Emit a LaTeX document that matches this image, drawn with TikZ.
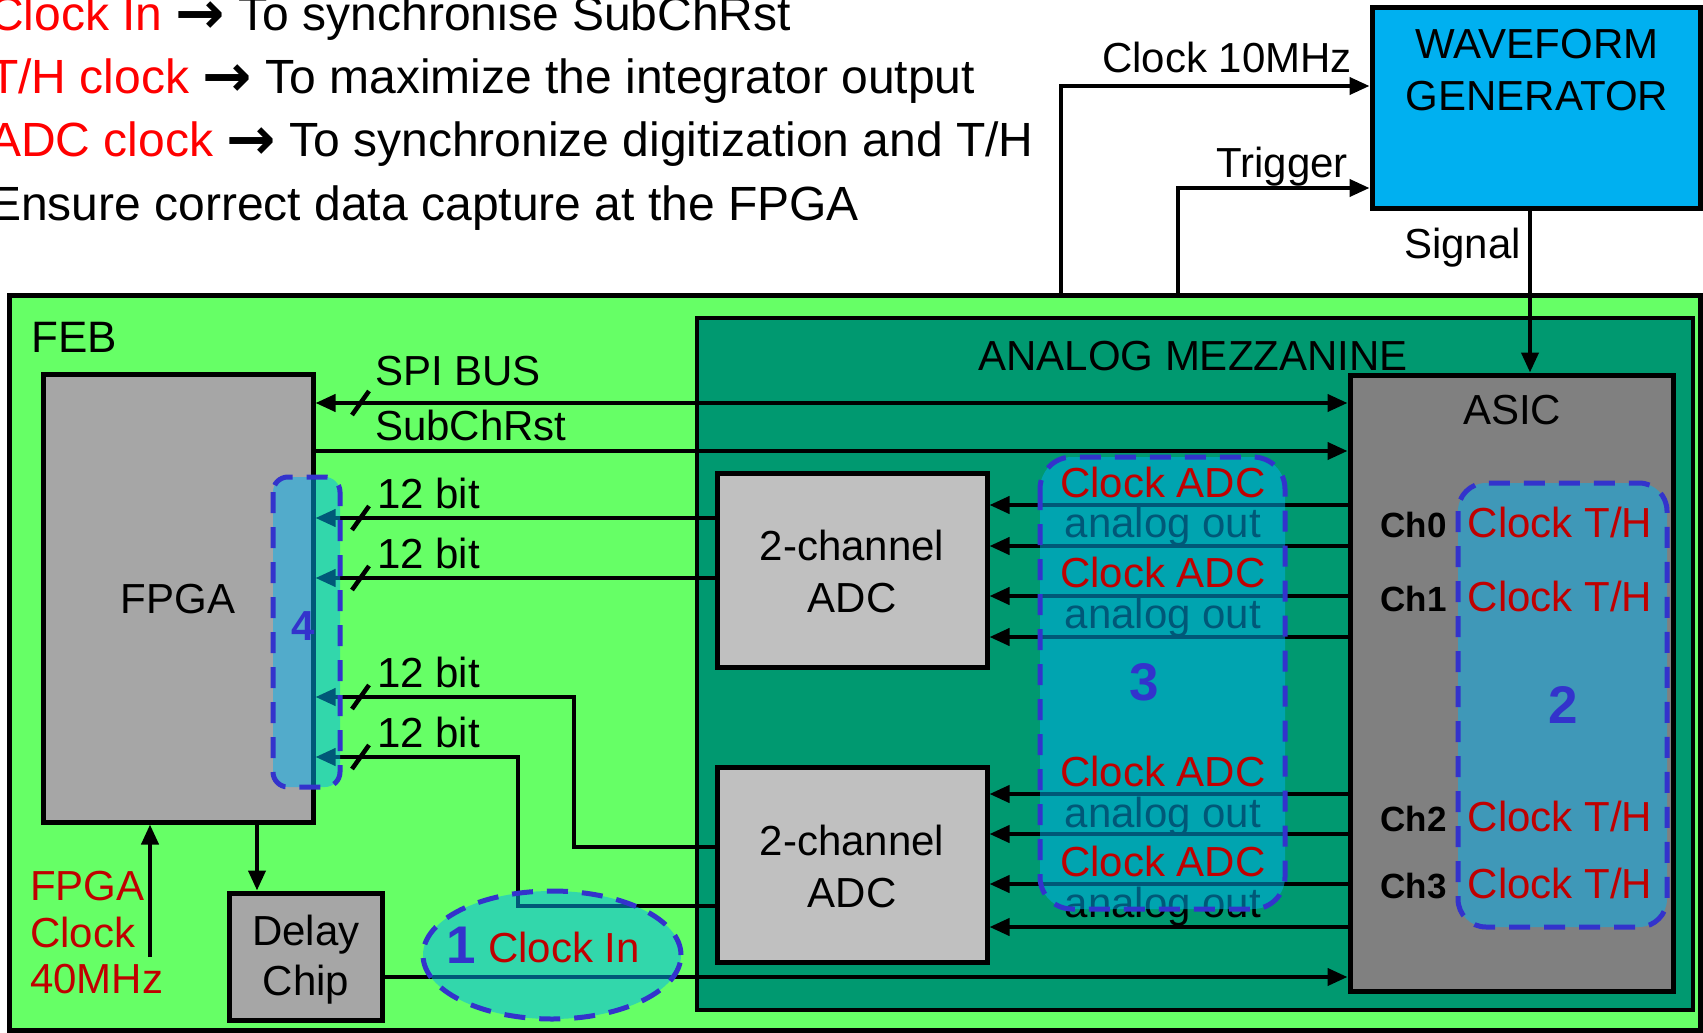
\documentclass[tikz,border=0pt]{standalone}
\usepackage{fontspec}
\setmainfont{Liberation Sans}
\newfontfamily\arrowfont{DejaVu Sans}
\newcommand{\rarr}{{\arrowfont\bfseries\fontsize{59}{59}\selectfont\raisebox{-3pt}{→}}}
\usetikzlibrary{arrows.meta,shapes.geometric,calc}
\definecolor{lgreen}{HTML}{66FF66}
\definecolor{dgreen}{HTML}{009970}
\definecolor{wgblue}{HTML}{00B0F0}
\definecolor{grpblue}{HTML}{3333CC}
\definecolor{dred}{HTML}{C00000}
\definecolor{brred}{HTML}{FF0000}
\definecolor{gfpga}{HTML}{A6A6A6}
\definecolor{gadc}{HTML}{C0C0C0}
\definecolor{gasic}{HTML}{808080}
\tikzset{
  box/.style={draw=black, line width=5pt, inner sep=0pt, rectangle},
  conn/.style={line width=4pt, line cap=butt},
  arr/.style={conn, -{Triangle[length=20pt,width=17pt]}},
  lbl/.style={inner sep=0pt, font=\fontsize{42}{50}\selectfont},
  big/.style={inner sep=0pt, font=\fontsize{48}{56}\selectfont, anchor=base west},
  grp/.style={draw=grpblue, line width=5pt, dash pattern=on 21pt off 14pt, fill=wgblue, fill opacity=0.5, draw opacity=1},
  num/.style={inner sep=0pt, text=grpblue, font=\fontsize{53}{60}\selectfont\bfseries, anchor=base},
  chl/.style={inner sep=0pt, font=\fontsize{35}{40}\selectfont\bfseries, anchor=base east},
  slash/.style={line width=4.5pt},
}
\begin{document}
\begin{tikzpicture}[x=1pt,y=-1pt]
\useasboundingbox (0,0) rectangle (1703,1033);
\clip (0,0) rectangle (1703,1033);
\fill[white] (0,0) rectangle (1703,1033);

% top notes
\node[big] (t1) at (-11,31) {\textcolor{brred}{Clock In} \rarr{} To synchronise SubChRst};
\node[big] (t2) at (-11,93) {\textcolor{brred}{T/H clock} \rarr{} To maximize the integrator output};
\node[big] (t3) at (-11,156) {\textcolor{brred}{ADC clock} \rarr{} To synchronize digitization and T/H};
\node[big] (t4) at (-11,220) {Ensure correct data capture at the FPGA};

% main boards
\node[box, fill=lgreen, minimum width=1691pt, minimum height=735pt] (feb) at (854.5,662.5) {};
\node[box, line width=4.5pt, fill=dgreen, minimum width=996pt, minimum height=692pt] (mezz) at (1195,664) {};
\node[box, fill=wgblue, minimum width=328pt, minimum height=200pt] (wg) at (1536,108) {};
\node[lbl, align=center] (wgt) at (1537,70) {WAVEFORM\\[2pt]GENERATOR};

\node[lbl, anchor=base west, font=\fontsize{44}{50}\selectfont] (febl) at (31,352) {FEB};
\node[lbl, anchor=base] (mezzl) at (1193,370) {ANALOG MEZZANINE};

% blocks
\node[box, fill=gfpga, minimum width=270pt, minimum height=448pt] (fpga) at (178,598) {};
\node[lbl, anchor=base] (fpgal) at (178,613) {FPGA};
\node[box, fill=gasic, minimum width=323pt, minimum height=616pt] (asic) at (1511.5,683) {};
\node[lbl, anchor=base] (asicl) at (1512,424) {ASIC};
\node[box, fill=gadc, minimum width=270pt, minimum height=194pt] (adcA) at (852,570) {};
\node[lbl, anchor=base] (adcA1) at (852,560) {2-channel};
\node[lbl, anchor=base] (adcA2) at (852,612) {ADC};
\node[box, fill=gadc, minimum width=270pt, minimum height=195pt] (adcB) at (852,864.5) {};
\node[lbl, anchor=base] (adcB1) at (852,855) {2-channel};
\node[lbl, anchor=base] (adcB2) at (852,907) {ADC};
\node[box, fill=gfpga, minimum width=153pt, minimum height=127pt] (delay) at (305.5,956.5) {};
\node[lbl, anchor=base] (dl1) at (306,945) {Delay};
\node[lbl, anchor=base] (dl2) at (306,995) {Chip};

% coordinates
\coordinate (c10) at (1061,86);
\coordinate (trg) at (1178,188);
\coordinate (sg) at (1530,0);
\coordinate (yspi) at (0,403);
\coordinate (ysub) at (0,451);
\coordinate (y1) at (0,518);
\coordinate (y2) at (0,578);
\coordinate (t3c) at (574,697);
\coordinate (b3c) at (574,847);
\coordinate (t4c) at (518,757);
\coordinate (b4c) at (518,906);
\coordinate (ci) at (0,977);
\coordinate (xd) at (257,0);
\coordinate (fc) at (150,957);

% external connections
\draw[arr] (feb.north -| c10) -- (c10) -- (wg.west |- c10);
\draw[arr] (feb.north -| trg) -- (trg) -- (wg.west |- trg);
\draw[arr] (wg.south -| sg) -- (asic.north -| sg);
\node[lbl, anchor=base east] (c10l) at (1352,73) {Clock 10MHz};
\node[lbl, anchor=base east] (trgl) at (1348,177) {Trigger};
\node[lbl, anchor=base east] (sgl) at (1521,258) {Signal};

% FPGA <-> ASIC
\draw[conn, {Triangle[length=20pt,width=17pt]}-{Triangle[length=20pt,width=17pt]}] (fpga.east |- yspi) -- (asic.west |- yspi);
\draw[arr] (fpga.east |- ysub) -- (asic.west |- ysub);
\node[lbl, anchor=base west] (spil) at (375,385) {SPI BUS};
\node[lbl, anchor=base west] (subl) at (375,440) {SubChRst};

% ADC -> FPGA
\draw[arr] (adcA.west |- y1) -- (fpga.east |- y1);
\draw[arr] (adcA.west |- y2) -- (fpga.east |- y2);
\draw[arr] (adcB.west |- b3c) -- (b3c) -- (t3c) -- (fpga.east |- t3c);
\draw[arr] (adcB.west |- b4c) -- (b4c) -- (t4c) -- (fpga.east |- t4c);
\node[lbl, anchor=base west] (b1l) at (377,508) {12 bit};
\node[lbl, anchor=base west] (b2l) at (377,568) {12 bit};
\node[lbl, anchor=base west] (b3l) at (377,687) {12 bit};
\node[lbl, anchor=base west] (b4l) at (377,747) {12 bit};
\foreach \yy in {403,518,578,697,757} {
  \draw[slash] (369,\yy-12) -- (352,\yy+12);
}

% ASIC -> ADC
\foreach \yy in {505,546,596,637} {
  \coordinate (tt) at (0,\yy);
  \draw[arr] (asic.west |- tt) -- (adcA.east |- tt);
}
\foreach \yy in {794,834,884,927} {
  \coordinate (tt) at (0,\yy);
  \draw[arr] (asic.west |- tt) -- (adcB.east |- tt);
}
\foreach \yy in {537,628,827,917} {
  \node[lbl, anchor=base] at (1163,\yy) {analog out};
}

% clocks
\draw[arr] (delay.east |- ci) -- (asic.west |- ci);
\draw[arr] (fpga.south -| xd) -- (delay.north -| xd);
\draw[arr] (fc) -- (fpga.south -| fc);
\node[lbl, anchor=base west, text=dred] (fc1) at (30,900) {FPGA};
\node[lbl, anchor=base west, text=dred] (fc2) at (30,947) {Clock};
\node[lbl, anchor=base west, text=dred] (fc3) at (30,993) {40MHz};

% channel labels
\node[chl] (ch0) at (1447,537) {Ch0};
\node[chl] (ch1) at (1447,611) {Ch1};
\node[chl] (ch2) at (1447,831) {Ch2};
\node[chl] (ch3) at (1447,898) {Ch3};

% highlight groups
\path[grp, rounded corners=15pt] (273,477) rectangle (340,787);
\path[grp, rounded corners=32pt] (1040,457) rectangle (1285,909);
\path[grp, rounded corners=28pt] (1458,483) rectangle (1667,927);
\path[grp] (552,955) ellipse [x radius=129pt, y radius=64pt];

% labels on top of groups
\foreach \yy in {497,587,786,876} {
  \node[lbl, anchor=base, text=dred] at (1163,\yy) {Clock ADC};
}
\foreach \yy in {537,611,831,898} {
  \node[lbl, anchor=base, text=dred] at (1560,\yy) {Clock T/H};
}
\node[lbl, anchor=base, text=dred] (cin) at (564,962) {Clock In};
\node[num] (n1) at (461,963) {1};
\node[num] (n2) at (1563,723) {2};
\node[num] (n3) at (1144,700) {3};
\node[num, font=\fontsize{42}{50}\selectfont\bfseries] (n4) at (303,640) {4};
\end{tikzpicture}
\end{document}
